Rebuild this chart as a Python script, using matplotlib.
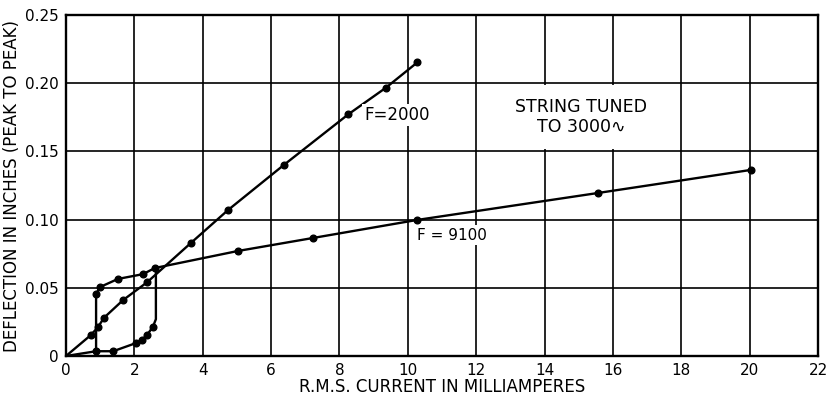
import matplotlib
matplotlib.use("Agg")
from matplotlib import pyplot as plt
from matplotlib.patches import Rectangle

# F = 2000: straight rise from the origin
f2000_x = [0.0, 0.73, 0.94, 1.11, 1.67, 2.37, 3.66, 4.74, 6.37, 8.26, 9.36, 10.28]
f2000_y = [0.0, 0.0154, 0.0213, 0.028, 0.041, 0.054, 0.083, 0.107, 0.140, 0.1772, 0.1967, 0.2153]

# F = 9100: hysteresis loop at low current, then a slow rise
# lower branch (increasing current), ends with the jump at ~2.6 mA
f9100_low_x = [0.0, 0.88, 1.38, 2.05, 2.22, 2.37, 2.54, 2.63, 2.63, 2.60]
f9100_low_y = [0.0, 0.0035, 0.0035, 0.0095, 0.0117, 0.0154, 0.0213, 0.027, 0.062, 0.0645]
f9100_low_pts = [1, 2, 3, 4, 5, 6]
# upper branch (from the drop at ~0.9 mA) continuing out to 20 mA
f9100_up_x = [0.88, 0.88, 1.0, 1.52, 2.25, 2.60, 5.03, 7.22, 10.26, 15.56, 20.03]
f9100_up_y = [0.0035, 0.0455, 0.0506, 0.0565, 0.060, 0.0645, 0.077, 0.0865, 0.0997, 0.1195, 0.1364]
f9100_up_pts = [1, 2, 3, 4, 5, 6, 7, 8, 9, 10]

x_ticks = list(range(0, 23, 2))
y_ticks = [0, 0.05, 0.10, 0.15, 0.20, 0.25]
y_tick_labels = ["0", "0.05", "0.10", "0.15", "0.20", "0.25"]

fig = plt.figure(figsize=(8.35, 3.97), dpi=100)
ax = fig.add_axes([66 / 835, 1 - 356 / 397, (818 - 66) / 835, (356 - 15) / 397])

line_kw = dict(color="black", lw=1.7, solid_joinstyle="round", zorder=3)
dot_kw = dict(color="black", marker="o", ms=4.8, ls="none", zorder=4)

ax.plot(f2000_x, f2000_y, **line_kw)
ax.plot(f2000_x[1:], f2000_y[1:], **dot_kw)

ax.plot(f9100_low_x, f9100_low_y, **line_kw)
ax.plot([f9100_low_x[i] for i in f9100_low_pts],
        [f9100_low_y[i] for i in f9100_low_pts], **dot_kw)
ax.plot(f9100_up_x, f9100_up_y, **line_kw)
ax.plot([f9100_up_x[i] for i in f9100_up_pts],
        [f9100_up_y[i] for i in f9100_up_pts], **dot_kw)

ax.set_xlim(0, 22)
ax.set_ylim(0, 0.25)
ax.set_xticks(x_ticks)
ax.set_xticklabels([str(t) for t in x_ticks])
ax.set_yticks(y_ticks)
ax.set_yticklabels(y_tick_labels)
ax.tick_params(length=0, labelsize=11, pad=5)
ax.grid(True, color="black", lw=1.2)
for s in ax.spines.values():
    s.set_linewidth(1.7)

ax.set_xlabel("R.M.S. CURRENT IN MILLIAMPERES", fontsize=12, labelpad=0)
ax.set_ylabel("DEFLECTION IN INCHES (PEAK TO PEAK)", fontsize=12, labelpad=3)

txt_bg = dict(facecolor="white", edgecolor="none", pad=1.5)
ax.text(8.72, 0.1767, "F=2000", fontsize=12, va="center", ha="left",
        bbox=txt_bg, zorder=5)
ax.text(10.26, 0.0887, "F = 9100", fontsize=11, va="center", ha="left",
        bbox=txt_bg, zorder=5)

# clear the inner grid lines behind the note block
ax.add_patch(Rectangle((12.06, 0.1515), 5.88, 0.047, facecolor="white",
                       edgecolor="none", zorder=2))
ax.text(15.06, 0.175, "STRING TUNED\nTO 3000\u223f", fontsize=12.5, va="center",
        ha="center", linespacing=1.15, zorder=5)

fig.savefig("out.png", dpi=100)
